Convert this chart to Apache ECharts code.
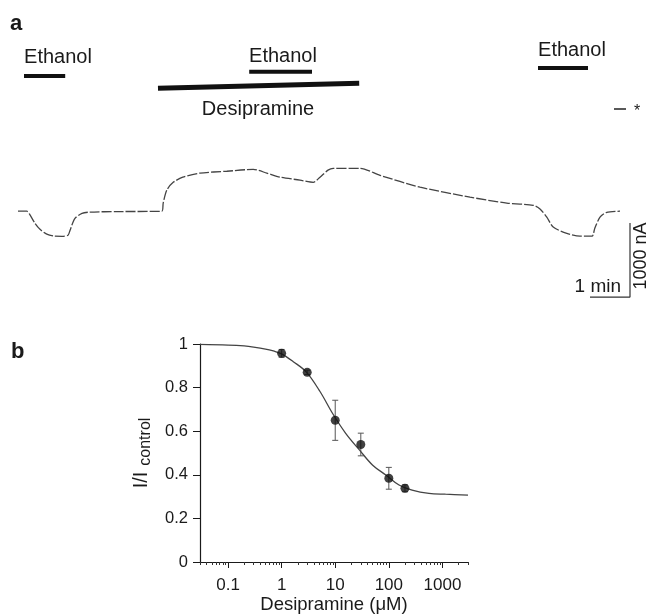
<!DOCTYPE html>
<html>
<head>
<meta charset="utf-8">
<title>Desipramine and ethanol currents</title>
<script src="https://cdn.jsdelivr.net/npm/echarts@6/dist/echarts.min.js"></script>
<style>
html, body { margin: 0; padding: 0; background: #fff; }
#chart { width: 648px; height: 615px; }
</style>
</head>
<body>
<div id="chart"></div>
<script>
// panel a - current trace, time in min, current in nA (0 = holding level)
const traceTime = [0, 0.22, 0.3, 0.42, 0.55, 0.72, 0.92, 1.1, 1.25, 1.3, 1.42, 1.6, 1.8, 2.5, 3.6,
  3.63, 3.72, 3.88, 4.12, 4.55, 5.22, 5.88, 6.22, 6.55, 7.05, 7.38, 7.55, 7.75, 7.88, 8.55,
  9.05, 10.05, 11.3, 12.22, 12.88, 13.05, 13.22, 13.38, 13.72, 14.05, 14.35, 14.42, 14.55, 14.72, 15.05]
const traceCurrent = [0, 0, -50, -160, -245, -310, -338, -340, -325, -260, -100, -30, -12, -5, 0,
  110, 285, 390, 460, 515, 540, 565, 515, 460, 420, 390, 460, 555, 580, 580,
  485, 325, 190, 110, 80, 30, -80, -215, -300, -338, -338, -230, -80, -15, 0]

// drug application periods (min)
const ethanolPeriods = [[0.15, 1.18], [5.78, 7.35], [13.0, 14.25]]
const desipraminePeriod = [3.5, 8.53]
const scaleBarMin = 1
const scaleBarNA = 1000

// panel b - concentration response
const doseConc = [1, 3, 10, 30, 100, 200]
const doseMean = [0.957, 0.870, 0.650, 0.539, 0.384, 0.338]
const doseErr = [0.018, 0.01, 0.092, 0.052, 0.05, 0.016]
const fitConc = [0.03, 0.1, 0.2, 0.3, 0.5, 0.7, 1, 1.65, 2.9, 5.2, 9, 15.8, 28.5, 50, 88, 155, 272, 560, 1140, 3000]
const fitValue = [0.998, 0.995, 0.991, 0.986, 0.977, 0.968, 0.955, 0.919, 0.871, 0.782, 0.680, 0.589, 0.513, 0.444, 0.399, 0.353, 0.330, 0.315, 0.311, 0.307]
const xMajorTicks = [0.1, 1, 10, 100, 1000]
const minorSteps = [2, 3, 4, 5, 6, 7, 8, 9]

const FONT = '"Liberation Sans", Arial, sans-serif'
const INK = '#1a1a1a'

const xMinorTicks = []
;[0.01, 0.1, 1, 10, 100, 1000].forEach(d => {
  minorSteps.forEach(m => {
    const v = +(d * m).toPrecision(3)
    if (v >= 0.03 && v <= 3000) xMinorTicks.push(v)
  })
})

// bar heights in panel a (nA levels, layout only)
const ethanolLevels = [1827, 1885, 1935]
const desiLevels = [1661, 1728]
const barCorner = [15.3, -1160]

function barSeries(data, width) {
  return {
    type: 'line', xAxisIndex: 0, yAxisIndex: 0, data: data,
    showSymbol: false, silent: true, animation: false,
    lineStyle: { color: '#111', width: width, cap: 'butt' }
  }
}

const chart = echarts.init(document.getElementById('chart'))
chart.setOption({
  animation: false,
  textStyle: { fontFamily: FONT, color: INK },
  grid: [
    { left: 18, top: 41, width: 620, height: 259 },
    { left: 200, top: 344, width: 268, height: 220 }
  ],
  xAxis: [
    { gridIndex: 0, type: 'value', min: 0, max: 15.5, show: false },
    {
      gridIndex: 1, type: 'log', min: 0.03, max: 3000, position: 'bottom',
      axisLine: { lineStyle: { color: INK, width: 1.2 } },
      axisTick: { customValues: xMajorTicks, length: 6, lineStyle: { color: INK } },
      axisLabel: {
        customValues: xMajorTicks, margin: 15, fontSize: 17, color: INK, fontFamily: FONT,
        formatter: v => String(v)
      },
      splitLine: { show: false },
      name: 'Desipramine (μM)', nameLocation: 'middle', nameGap: 33,
      nameTextStyle: { fontSize: 18.5, color: INK, fontFamily: FONT }
    },
    {
      gridIndex: 1, type: 'log', min: 0.03, max: 3000, position: 'bottom',
      axisLine: { show: false },
      axisTick: { customValues: xMinorTicks, length: 3, lineStyle: { color: '#333' } },
      axisLabel: { show: false },
      splitLine: { show: false }
    }
  ],
  yAxis: [
    { gridIndex: 0, type: 'value', min: -1200, max: 2300, show: false },
    {
      gridIndex: 1, type: 'value', min: 0, max: 1, interval: 0.2,
      axisLine: { show: true, lineStyle: { color: INK, width: 1.2 } },
      axisTick: { show: true, length: 7, lineStyle: { color: INK } },
      axisLabel: { fontSize: 16.5, margin: 12, color: INK, fontFamily: FONT },
      splitLine: { show: false },
      name: '{a|I/I}{b|control}', nameLocation: 'middle', nameGap: 46,
      nameTextStyle: {
        rich: {
          a: { fontSize: 20, color: INK, fontFamily: FONT, verticalAlign: 'top', padding: [0, 6, 0, 0] },
          b: { fontSize: 16, color: INK, fontFamily: FONT, verticalAlign: 'top', padding: [7, 0, 0, 0] }
        }
      }
    }
  ],
  graphic: [
    { type: 'text', x: 10, y: 13, style: { text: 'a', font: 'bold 22px ' + FONT, fill: INK } },
    { type: 'text', x: 58, y: 57, style: { text: 'Ethanol', font: '20px ' + FONT, fill: INK, align: 'center', verticalAlign: 'middle' } },
    { type: 'text', x: 283, y: 56, style: { text: 'Ethanol', font: '20px ' + FONT, fill: INK, align: 'center', verticalAlign: 'middle' } },
    { type: 'text', x: 572, y: 50, style: { text: 'Ethanol', font: '20px ' + FONT, fill: INK, align: 'center', verticalAlign: 'middle' } },
    { type: 'text', x: 258, y: 109, style: { text: 'Desipramine', font: '20px ' + FONT, fill: INK, align: 'center', verticalAlign: 'middle' } },
    { type: 'text', x: 637, y: 112, style: { text: '*', font: '16px ' + FONT, fill: INK, align: 'center', verticalAlign: 'middle' } },
    { type: 'text', x: 621, y: 287, style: { text: '1 min', font: '19px ' + FONT, fill: INK, align: 'right', verticalAlign: 'middle' } },
    { type: 'text', x: 641, y: 256, rotation: Math.PI / 2, style: { text: '1000 nA', font: '18px ' + FONT, fill: INK, align: 'center', verticalAlign: 'middle' } },
    { type: 'text', x: 11, y: 341, style: { text: 'b', font: 'bold 22px ' + FONT, fill: INK } }
  ],
  series: [
    {
      type: 'line', xAxisIndex: 0, yAxisIndex: 0,
      data: traceTime.map((t, i) => [t, traceCurrent[i]]),
      showSymbol: false, smooth: 0.25, silent: true,
      lineStyle: { color: '#444', width: 1.3, type: [10, 2] }
    },
    ...ethanolPeriods.map((p, i) => barSeries([[p[0], ethanolLevels[i]], [p[1], ethanolLevels[i]]], 4)),
    barSeries([[desipraminePeriod[0], desiLevels[0]], [desipraminePeriod[1], desiLevels[1]]], 5),
    // scale bar 1 min / 1000 nA
    {
      type: 'line', xAxisIndex: 0, yAxisIndex: 0, showSymbol: false, silent: true,
      data: [[barCorner[0] - scaleBarMin, barCorner[1]], barCorner, [barCorner[0], barCorner[1] + scaleBarNA]],
      lineStyle: { color: '#333', width: 1.2 }
    },
    {
      type: 'line', xAxisIndex: 0, yAxisIndex: 0, showSymbol: false, silent: true,
      data: [[14.9, 1381], [15.2, 1381]],
      lineStyle: { color: '#222', width: 1.3 }
    },
    // panel b
    {
      type: 'line', xAxisIndex: 1, yAxisIndex: 1,
      data: fitConc.map((c, i) => [c, fitValue[i]]),
      showSymbol: false, smooth: 0.35, silent: true,
      lineStyle: { color: '#444', width: 1.3 }
    },
    {
      type: 'custom', xAxisIndex: 1, yAxisIndex: 1, z: 3,
      data: doseConc.map((c, i) => [c, doseMean[i] - doseErr[i], doseMean[i] + doseErr[i]]),
      encode: { x: 0, y: [1, 2] },
      renderItem: function (params, api) {
        const lo = api.coord([api.value(0), api.value(1)])
        const hi = api.coord([api.value(0), api.value(2)])
        const w = 3
        const st = { stroke: '#555', lineWidth: 1 }
        return {
          type: 'group',
          children: [
            { type: 'line', shape: { x1: lo[0], y1: lo[1], x2: hi[0], y2: hi[1] }, style: st },
            { type: 'line', shape: { x1: lo[0] - w, y1: lo[1], x2: lo[0] + w, y2: lo[1] }, style: st },
            { type: 'line', shape: { x1: hi[0] - w, y1: hi[1], x2: hi[0] + w, y2: hi[1] }, style: st }
          ]
        }
      }
    },
    {
      type: 'scatter', xAxisIndex: 1, yAxisIndex: 1, z: 4,
      data: doseConc.map((c, i) => [c, doseMean[i]]),
      symbol: 'circle', symbolSize: 9,
      itemStyle: { color: '#111' }
    }
  ]
})
</script>
</body>
</html>
